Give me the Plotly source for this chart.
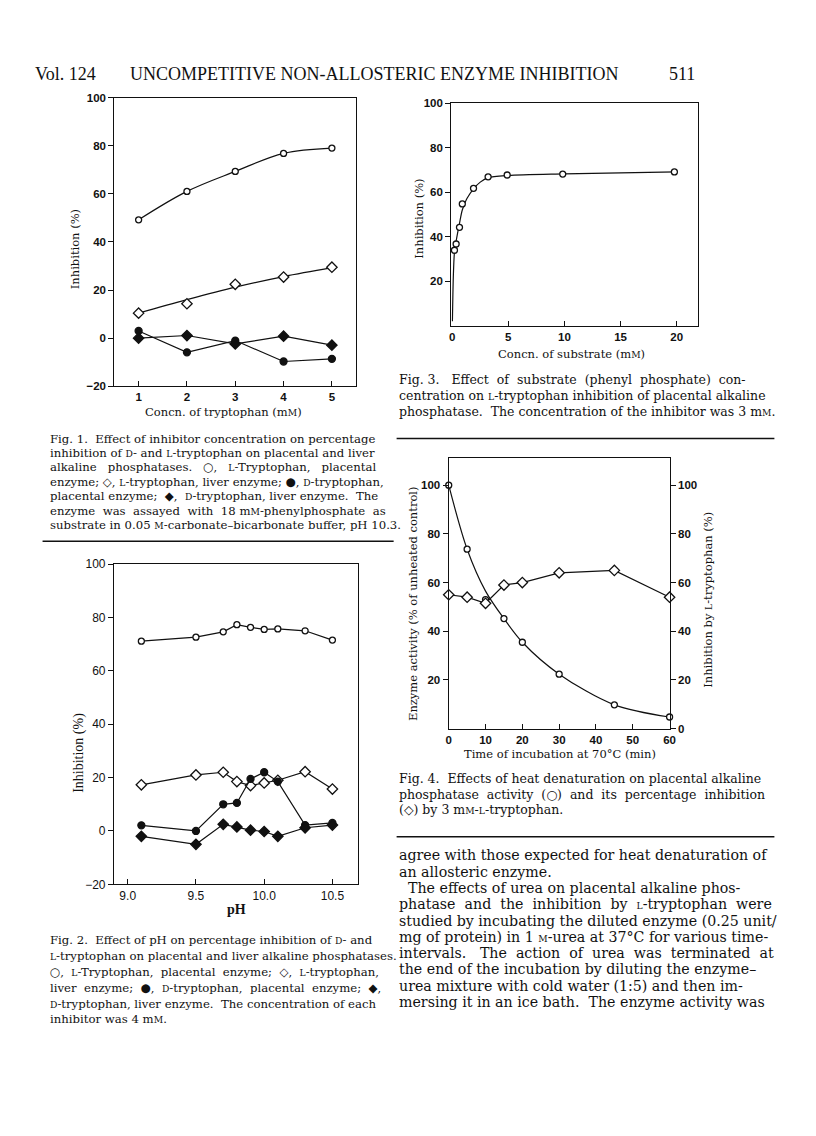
import plotly.graph_objects as go

W, H = 816, 1136

# ---------------- data ----------------
# Fig. 1
f1_conc = [1, 2, 3, 4, 5]
f1_l_placental = [49.2, 61.0, 69.3, 76.8, 79.0]
f1_l_liver = [10.4, 14.3, 22.4, 25.4, 29.5]
f1_l_liver_fit = [10.4, 16.0, 21.2, 25.6, 29.3]
f1_d_placental = [3.0, -5.9, -1.0, -9.7, -8.6]
f1_d_liver = [0.0, 1.1, -2.4, 0.8, -2.9]

# Fig. 2
f2_ph = [9.1, 9.5, 9.7, 9.8, 9.9, 10.0, 10.1, 10.3, 10.5]
f2_l_placental = [71.1, 72.6, 74.6, 77.3, 76.3, 75.5, 75.7, 75.0, 71.5]
f2_l_liver = [17.3, 21.0, 22.0, 18.5, 17.0, 18.0, 19.0, 22.2, 15.7]
f2_d_placental = [2.1, 0.0, 10.0, 10.5, 19.5, 22.0, 18.5, 2.2, 3.0]
f2_d_liver = [-2.0, -5.0, 2.5, 1.5, 0.3, -0.2, -2.0, 1.2, 2.2]

# Fig. 3
f3_subst = [0.2, 0.35, 0.65, 0.9, 1.9, 3.2, 4.9, 9.85, 19.8]
f3_inhib = [33.9, 36.7, 44.2, 54.7, 61.7, 66.9, 67.7, 68.1, 69.1]
f3_curve_x = [0.02, 0.1, 0.2, 0.35, 0.65, 0.9, 1.3, 1.9, 2.5, 3.2, 5, 10, 20]
f3_curve_y = [2, 22, 33, 38, 46, 52, 57, 61.5, 64.5, 66.5, 67.5, 68.2, 69.1]

# Fig. 4
f4_time = [0, 5, 10, 15, 20, 30, 45, 60]
f4_activity = [100, 73.7, 53.0, 45.2, 35.5, 22.4, 9.8, 4.8]
f4_activity_curve = [100, 73.7, 56.5, 45.2, 35.5, 22.4, 9.8, 4.8]
f4_inhibition = [55.0, 54.0, 51.5, 59.0, 60.0, 64.0, 65.0, 54.0]

# ---------------- helpers ----------------
def px_x(p):
    return p / W

def px_y(p):
    return 1 - p / H

BLACK = "#111111"
SERIF = "DejaVu Serif"
SANS = "Liberation Sans"


def sc(s, size=9.2):
    return "<span style='font-size:%spx'>%s</span>" % (size, s)

fig = go.Figure()

LW = 1.2

def add(xa, ya, x, y, mode, symbol=None, fill="white", size=6, shape="linear", smooth=None):
    line = dict(color=BLACK, width=LW, shape=shape)
    if smooth is not None:
        line["smoothing"] = smooth
    fig.add_trace(go.Scatter(
        x=x, y=y, mode=mode, xaxis=xa, yaxis=ya, showlegend=False,
        cliponaxis=False, line=line,
        marker=dict(symbol=symbol or "circle", size=size, color=fill,
                    line=dict(color=BLACK, width=1.3)),
    ))

# Fig 1
add("x", "y", f1_conc, f1_l_placental, "lines+markers", "circle", "white", 6, "spline", 1.0)
add("x", "y", f1_conc, f1_l_liver_fit, "lines", shape="spline", smooth=1.0)
add("x", "y", f1_conc, f1_l_liver, "markers", "diamond", "white", 8)
add("x", "y", f1_conc, f1_d_placental, "lines+markers", "circle", BLACK, 7)
add("x", "y", f1_conc, f1_d_liver, "lines+markers", "diamond", BLACK, 8)

# Fig 3
add("x2", "y2", f3_curve_x, f3_curve_y, "lines", shape="spline", smooth=0.8)
add("x2", "y2", f3_subst, f3_inhib, "markers", "circle", "white", 6)

# Fig 2
add("x3", "y3", f2_ph, f2_l_placental, "lines+markers", "circle", "white", 6)
add("x3", "y3", f2_ph, f2_l_liver, "lines+markers", "diamond", "white", 8)
add("x3", "y3", f2_ph, f2_d_placental, "lines+markers", "circle", BLACK, 7)
add("x3", "y3", f2_ph, f2_d_liver, "lines+markers", "diamond", BLACK, 8)

# Fig 4
add("x4", "y4", f4_time, f4_activity_curve, "lines", shape="spline", smooth=0.9)
add("x4", "y4", f4_time, f4_activity, "markers", "circle", "white", 6)
add("x4", "y5", f4_time, f4_inhibition, "lines+markers", "diamond", "white", 8)

# ---------------- axes ----------------
def axis(dom, rng, tickvals, xaxis, font, anchor, ticktext=None, **kw):
    d = dict(domain=dom, range=rng, tickvals=tickvals, showline=True, linecolor=BLACK,
             linewidth=1.3, mirror=True, showgrid=False, zeroline=False,
             ticks="inside" if xaxis else "outside", ticklen=5, tickwidth=1.2,
             tickcolor=BLACK, tickfont=font, anchor=anchor, fixedrange=True)
    if ticktext is not None:
        d["ticktext"] = ticktext
    d.update(kw)
    return d

bold_font = dict(family=SANS, size=11.5, color=BLACK, weight="bold")
reg_font = dict(family=SANS, size=12, color=BLACK)

layout = dict(
    width=W, height=H, margin=dict(l=0, r=0, t=0, b=0),
    paper_bgcolor="white", plot_bgcolor="white", showlegend=False,
)

layout["xaxis"] = axis([px_x(112.7), px_x(357)], [0.5, 5.5], [1, 2, 3, 4, 5], True, bold_font, "y")
layout["yaxis"] = axis([px_y(384), px_y(91.7)], [-20, 100], [-20, 0, 20, 40, 60, 80, 100], False, bold_font, "x")
layout["xaxis2"] = axis([px_x(453.3), px_x(702.7)], [-0.08, 21.9], [0, 5, 10, 15, 20], True, bold_font, "y2")
layout["yaxis2"] = axis([px_y(322.7), px_y(97.3)], [0, 100], [20, 40, 60, 80, 100], False, bold_font, "x2")
layout["xaxis3"] = axis([px_x(112.3), px_x(359.3)], [8.9, 10.69], [9.0, 9.5, 10.0, 10.5], True, reg_font, "y3",
                        ticktext=["9.0", "9.5", "10.0", "10.5"])
layout["yaxis3"] = axis([px_y(888.3), px_y(564)], [-20, 100], [-20, 0, 20, 40, 60, 80, 100], False, reg_font, "x3")
layout["xaxis4"] = axis([px_x(450.7), px_x(674)], [0, 60], [0, 10, 20, 30, 40, 50, 60], True, bold_font, "y4")
layout["yaxis4"] = axis([px_y(730.7), px_y(457)], [0, 111], [20, 40, 60, 80, 100], False, bold_font, "x4")
layout["yaxis5"] = axis([px_y(730.7), px_y(457)], [0, 111], [0, 20, 40, 60, 80, 100], False, bold_font, "x4",
                        overlaying="y4", side="right", mirror=False)

fig.update_layout(**layout)

# ---------------- text ----------------
ann = []

def text(x, y, s, size=11, family=SERIF, xanchor="left", angle=0, yanchor="middle", weight="normal"):
    ann.append(dict(x=px_x(x), y=px_y(y), xref="paper", yref="paper", text=s, showarrow=False,
                    xanchor=xanchor, yanchor=yanchor, textangle=angle,
                    font=dict(family=family, size=size, color=BLACK, weight=weight)))

L = sc("L")
D = sc("D")
M = sc("M")

def para(x, y0, step, lines, size):
    for i, s in enumerate(lines):
        text(x, y0 + i * step, s.replace("  ", "\u00a0 "), size)

# header
text(30, 68, "Vol.\u00a0124", 18, "Liberation Serif")
text(375, 68, "UNCOMPETITIVE NON-ALLOSTERIC ENZYME INHIBITION", 18, "Liberation Serif", "center")
text(702, 68, "511", 18, "Liberation Serif", "right")

# axis titles
text(223, 410, "Concn. of tryptophan (m%s)" % M, 11.5, xanchor="center")
text(73, 245, "Inhibition (%)", 11.5, xanchor="center", angle=-90)
text(575, 351, "Concn. of substrate (m%s)" % M, 11.5, xanchor="center")
text(421, 214, "Inhibition (%)", 11.5, xanchor="center", angle=-90)
text(236, 914, "pH", 14, "Liberation Serif", "center", weight="bold")
text(77, 755, "Inhibition (%)", 14, "Liberation Serif", "center", angle=-90)
text(563, 756, "Time of incubation at 70°C (min)", 11.5, xanchor="center")
text(414, 604, "Enzyme activity (% of unheated control)", 11.5, xanchor="center", angle=-90)
text(712, 600, "Inhibition by %s-tryptophan (%%)" % L, 11.5, xanchor="center", angle=-90)

CAPL = 11.7
CAPR = 12.5
BODY = 14.2

para(45, 437, 14.6, [
    "Fig. 1.  Effect of inhibitor concentration on percentage",
    "inhibition of %s- and %s-tryptophan on placental and liver" % (D, L),
    "alkaline   phosphatases.   ○,   %s-Tryptophan,   placental" % L,
    "enzyme; ◇, %s-tryptophan, liver enzyme; ●, %s-tryptophan," % (L, D),
    "placental enzyme;  ◆,  %s-tryptophan, liver enzyme.  The" % D,
    "enzyme  was  assayed  with  18 m%s-phenylphosphate  as" % M,
    "substrate in 0.05 %s-carbonate–bicarbonate buffer, pH 10.3." % M,
], CAPL)

para(45, 945, 16.0, [
    "Fig. 2.  Effect of pH on percentage inhibition of %s- and" % D,
    "%s-tryptophan on placental and liver alkaline phosphatases." % L,
    "○,  %s-Tryptophan,  placental  enzyme;  ◇,  %s-tryptophan," % (L, L),
    "liver  enzyme;  ●,  %s-tryptophan,  placental  enzyme;  ◆," % D,
    "%s-tryptophan, liver enzyme.  The concentration of each" % D,
    "inhibitor was 4 m%s." % M,
], CAPL)

para(398, 377, 16.4, [
    "Fig. 3.   Effect  of  substrate  (phenyl  phosphate)  con-",
    "centration on %s-tryptophan inhibition of placental alkaline" % L,
    "phosphatase.  The concentration of the inhibitor was 3 m%s." % M,
], CAPR)

para(398, 781, 16.0, [
    "Fig. 4.  Effects of heat denaturation on placental alkaline",
    "phosphatase  activity  (○)  and  its  percentage  inhibition",
    "(◇) by 3 m%s-%s-tryptophan." % (M, L),
], CAPR)

para(398, 859, 16.5, [
    "agree with those expected for heat denaturation of",
    "an allosteric enzyme.",
    "\u00a0\u00a0The effects of urea on placental alkaline phos-",
    "phatase  and  the  inhibition  by  %s-tryptophan  were" % L,
    "studied by incubating the diluted enzyme (0.25 unit/",
    "mg of protein) in 1 %s-urea at 37°C for various time-" % M,
    "intervals.   The  action  of  urea  was  terminated  at",
    "the end of the incubation by diluting the enzyme–",
    "urea mixture with cold water (1:5) and then im-",
    "mersing it in an ice bath.  The enzyme activity was",
], BODY)

fig.update_layout(annotations=ann)

shapes = []
for (x0, x1, y) in [(40, 395, 541), (398, 780, 437), (398, 780, 840)]:
    shapes.append(dict(type="line", xref="paper", yref="paper", x0=px_x(x0), x1=px_x(x1),
                       y0=px_y(y), y1=px_y(y), line=dict(color=BLACK, width=1.5)))
fig.update_layout(shapes=shapes)

fig.write_html("out.html", config={"displayModeBar": False},
               post_script="document.body.style.margin='0';document.body.style.overflow='hidden';")
